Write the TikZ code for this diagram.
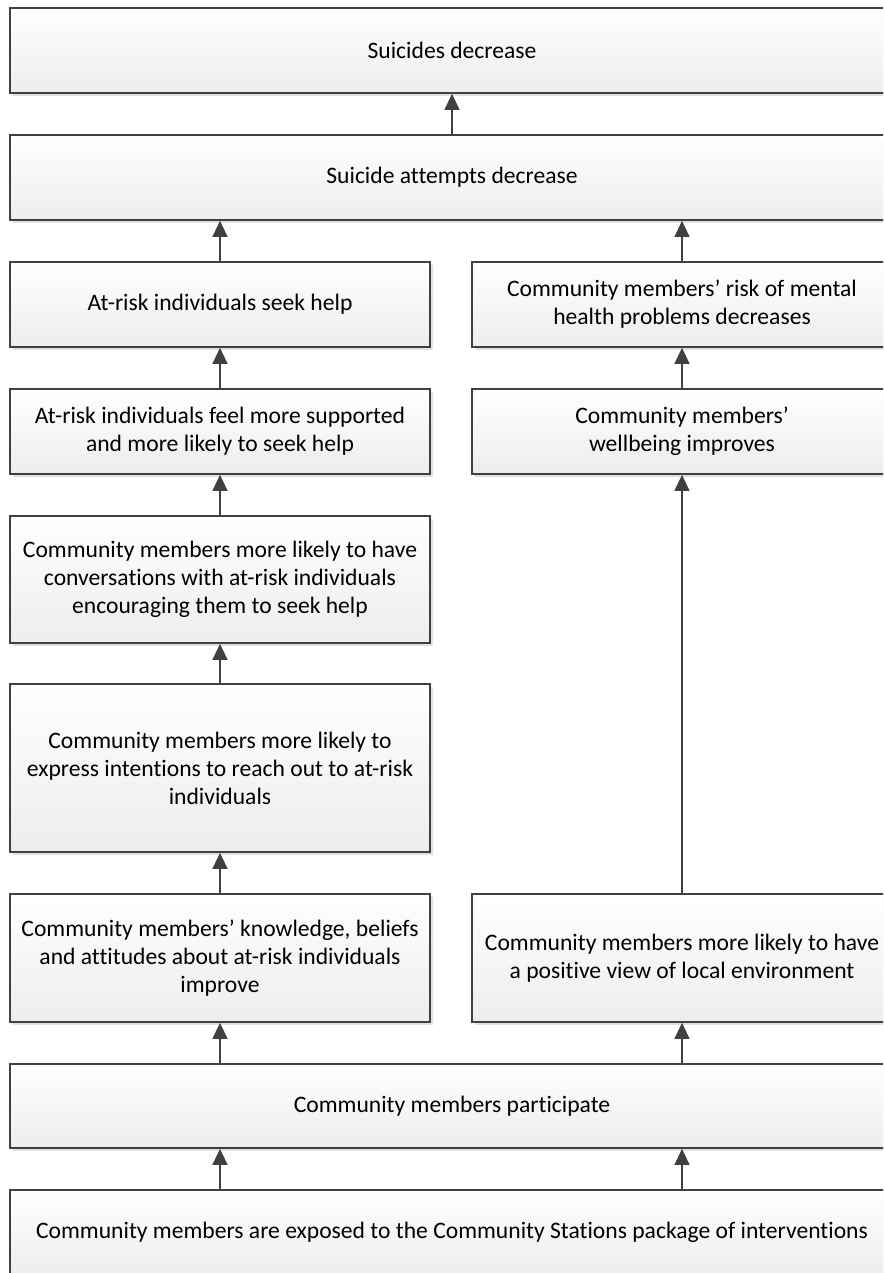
\documentclass[tikz,border=0pt]{standalone}
\usepackage{fontspec}
\setmainfont[Ligatures=NoCommon]{Carlito}
\usetikzlibrary{arrows.meta,shadows}
\definecolor{edge}{HTML}{404040}
\definecolor{boxbot}{HTML}{EDEDED}
\begin{document}
\begin{tikzpicture}[x=1pt,y=-1pt,
  box/.style={draw=edge, line width=1.7pt, top color=white, bottom color=boxbot,
    drop shadow={shadow xshift=2.5pt, shadow yshift=-3pt, fill=black!20, opacity=0.6},
    align=center, inner sep=0pt, font=\fontsize{23.6}{28}\selectfont},
  wide/.style={box, minimum width=884pt},
  col/.style={box, minimum width=420pt},
  arr/.style={draw=edge, line width=1.3pt, -{Triangle[length=16pt,width=15pt]}}]
\useasboundingbox (0,0) rectangle (883,1273);
\clip (0,0) rectangle (883,1273);
\node[wide, minimum height=85pt] (top) at (452,50.5) {Suicides decrease};
\node[wide, minimum height=85pt] (att) at (452,177.5) {Suicide attempts decrease};
\node[col, minimum height=85pt] (L1) at (220,304.5) {At-risk individuals seek help};
\node[col, minimum height=85pt] (R1) at (682,304.5) {Community members’ risk of mental\\health problems decreases};
\node[col, minimum height=85pt] (L2) at (220,431.5) {At-risk individuals feel more supported\\and more likely to seek help};
\node[col, minimum height=85pt] (R2) at (682,431.5) {Community members’\\wellbeing improves};
\node[col, minimum height=127pt] (L3) at (220,579.5) {Community members more likely to have\\conversations with at-risk individuals\\encouraging them to seek help};
\node[col, minimum height=168pt] (L4) at (220,768) {Community members more likely to\\express intentions to reach out to at-risk\\individuals};
\node[col, minimum height=128pt] (L5) at (220,958) {Community members’ knowledge, beliefs\\and attitudes about at-risk individuals\\improve};
\node[col, minimum height=128pt] (R5) at (682,958) {Community members more likely to have\\a positive view of local environment};
\node[wide, minimum height=84pt] (part) at (452,1106) {Community members participate};
\node[wide, minimum height=85pt] (exp) at (452,1232.5) {Community members are exposed to the Community Stations package of interventions};
\draw[arr] (att.north) -- (top.south);
\draw[arr] (L1.north) -- (L1.north |- att.south);
\draw[arr] (R1.north) -- (R1.north |- att.south);
\draw[arr] (L2.north) -- (L1.south);
\draw[arr] (R2.north) -- (R1.south);
\draw[arr] (L3.north) -- (L2.south);
\draw[arr] (L4.north) -- (L3.south);
\draw[arr] (L5.north) -- (L4.south);
\draw[arr] (R5.north) -- (R2.south);
\draw[arr] (L5.south |- part.north) -- (L5.south);
\draw[arr] (R5.south |- part.north) -- (R5.south);
\draw[arr] (L5.south |- exp.north) -- (L5.south |- part.south);
\draw[arr] (R5.south |- exp.north) -- (R5.south |- part.south);
\end{tikzpicture}
\end{document}
